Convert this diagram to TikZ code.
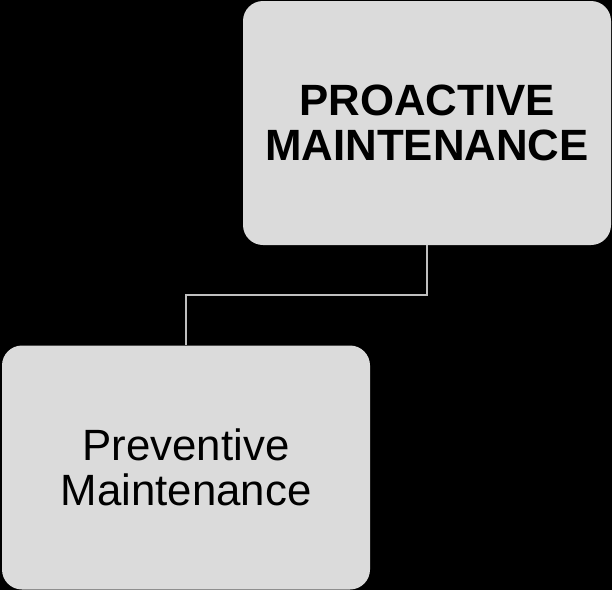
\documentclass[tikz,border=0pt]{standalone}
\usepackage{fontspec}
\setmainfont{Liberation Sans}
\begin{document}
\begin{tikzpicture}[x=1pt,y=-1pt,
  card/.style={draw=none, fill=black!14, rounded corners=20pt, minimum width=368pt, minimum height=244pt,
    align=center, inner sep=0pt, font=\fontsize{43.8}{45}\selectfont},
  link/.style={draw=black!25, line width=2pt}]
  \fill[black] (0,0) rectangle (612,590);
  \useasboundingbox (0,0) rectangle (612,590);
  \node[card, font=\fontsize{43.8}{45}\selectfont\bfseries] (pro) at (427,123) {PROACTIVE\\MAINTENANCE};
  \node[card] (prev) at (186,467.5) {Preventive\\Maintenance};
  \draw[link] (pro.south) |- (186,295) -- (prev.north);
\end{tikzpicture}
\end{document}
